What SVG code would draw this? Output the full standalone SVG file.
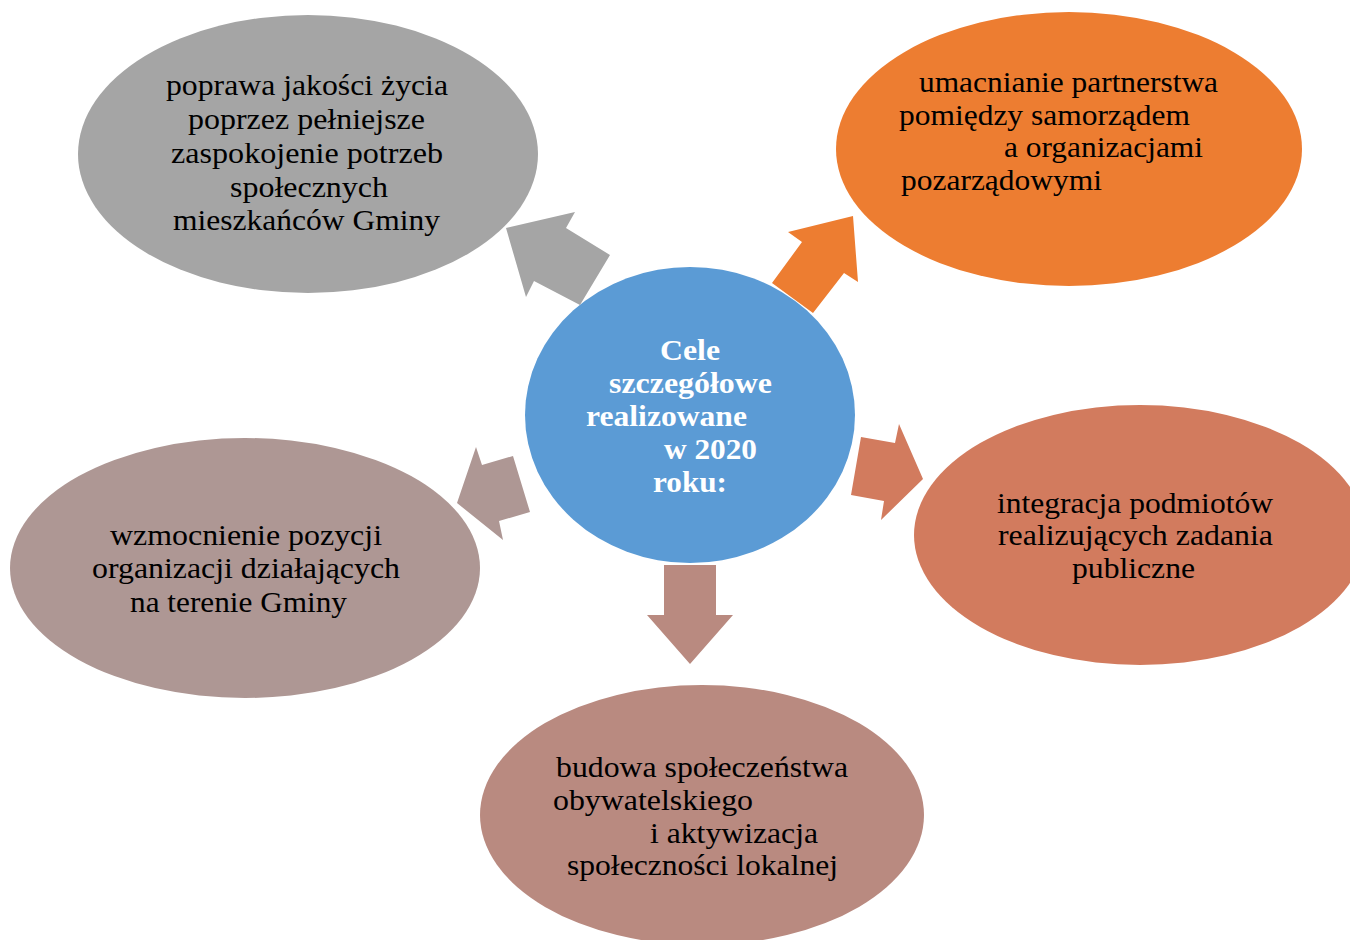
<svg xmlns="http://www.w3.org/2000/svg" width="1350" height="940" viewBox="0 0 1350 940">
<style>
.t{font-family:"Liberation Serif","Times New Roman",serif;font-size:30px;fill:#000}
.c{font-family:"Liberation Serif","Times New Roman",serif;font-size:30px;font-weight:bold;fill:#fff}
</style>
<rect width="1350" height="940" fill="#fff"/>
<g id="connectors">
<polygon fill="#A5A5A5" points="506,228 575,212 566,228 610,255 580,305 534,281 526,297"/>
<polygon fill="#ED7D31" points="853,216 788,232 802,242 772,283 813,313 844,273 858,282"/>
<polygon fill="#D27B5E" points="861,437 895,443 899,424 923,479 881,520 884,501 851,495"/>
<polygon fill="#B98A80" points="664,565 716,565 716,615 733,615 690,664 647,615 664,615"/>
<polygon fill="#AE9794" points="457,503 476,447 482,465 513,456 530,512 499,521 503,540"/>
</g>
<g id="center">
<ellipse cx="690" cy="415" rx="165" ry="148" fill="#5B9BD5"/>
<text class="c" x="690" y="360" text-anchor="middle" textLength="60" lengthAdjust="spacingAndGlyphs">Cele</text>
<text class="c" x="609" y="393" textLength="163" lengthAdjust="spacingAndGlyphs">szczegółowe</text>
<text class="c" x="586" y="426" textLength="161" lengthAdjust="spacingAndGlyphs">realizowane</text>
<text class="c" x="664" y="459" textLength="93" lengthAdjust="spacingAndGlyphs">w 2020</text>
<text class="c" x="653" y="492" textLength="74" lengthAdjust="spacingAndGlyphs">roku:</text>
</g>
<g id="node-top-left">
<ellipse cx="308" cy="154" rx="230" ry="139" fill="#A5A5A5"/>
<text class="t" x="166" y="95" textLength="282" lengthAdjust="spacingAndGlyphs">poprawa jakości życia</text>
<text class="t" x="188" y="129" textLength="237" lengthAdjust="spacingAndGlyphs">poprzez pełniejsze</text>
<text class="t" x="171" y="163" textLength="272" lengthAdjust="spacingAndGlyphs">zaspokojenie potrzeb</text>
<text class="t" x="230" y="197" textLength="158" lengthAdjust="spacingAndGlyphs">społecznych</text>
<text class="t" x="173" y="230" textLength="267" lengthAdjust="spacingAndGlyphs">mieszkańców Gminy</text>
</g>
<g id="node-top-right">
<ellipse cx="1069" cy="149" rx="233" ry="137" fill="#ED7D31"/>
<text class="t" x="919" y="92" textLength="299" lengthAdjust="spacingAndGlyphs">umacnianie partnerstwa</text>
<text class="t" x="899" y="125" textLength="291" lengthAdjust="spacingAndGlyphs">pomiędzy samorządem</text>
<text class="t" x="1004" y="157" textLength="199" lengthAdjust="spacingAndGlyphs">a organizacjami</text>
<text class="t" x="901" y="190" textLength="201" lengthAdjust="spacingAndGlyphs">pozarządowymi</text>
</g>
<g id="node-right">
<ellipse cx="1140" cy="535" rx="226" ry="130" fill="#D27B5E"/>
<text class="t" x="997" y="513" textLength="276" lengthAdjust="spacingAndGlyphs">integracja podmiotów</text>
<text class="t" x="998" y="545" textLength="275" lengthAdjust="spacingAndGlyphs">realizujących zadania</text>
<text class="t" x="1072" y="578" textLength="123" lengthAdjust="spacingAndGlyphs">publiczne</text>
</g>
<g id="node-left">
<ellipse cx="245" cy="568" rx="235" ry="130" fill="#AE9794"/>
<text class="t" x="110" y="545" textLength="272" lengthAdjust="spacingAndGlyphs">wzmocnienie pozycji</text>
<text class="t" x="92" y="578" textLength="308" lengthAdjust="spacingAndGlyphs">organizacji działających</text>
<text class="t" x="130" y="612" textLength="217" lengthAdjust="spacingAndGlyphs">na terenie Gminy</text>
</g>
<g id="node-bottom">
<ellipse cx="702" cy="815" rx="222" ry="130" fill="#B98A80"/>
<text class="t" x="556" y="777" textLength="292" lengthAdjust="spacingAndGlyphs">budowa społeczeństwa</text>
<text class="t" x="553" y="810" textLength="200" lengthAdjust="spacingAndGlyphs">obywatelskiego</text>
<text class="t" x="650" y="843" textLength="168" lengthAdjust="spacingAndGlyphs">i aktywizacja</text>
<text class="t" x="567" y="875" textLength="271" lengthAdjust="spacingAndGlyphs">społeczności lokalnej</text>
</g>
</svg>
